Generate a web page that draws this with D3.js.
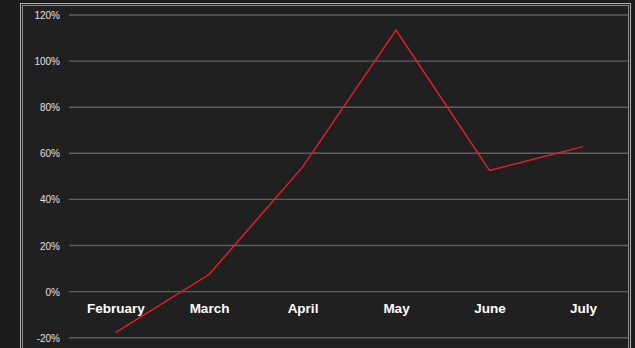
<!DOCTYPE html>
<html><head><meta charset="utf-8">
<script src="https://cdn.jsdelivr.net/npm/d3@7"></script>
<style>html,body{margin:0;padding:0;background:#1c1c1c;overflow:hidden}</style>
</head><body>
<script>
const months = ["February","March","April","May","June","July"];
const growth = [-17.8, 7.4, 54, 113.5, 52.6, 62.9];
const yTicks = [-20, 0, 20, 40, 60, 80, 100, 120];

const W = 635, H = 348;
const svg = d3.select("body").append("svg").attr("width", W).attr("height", H);
svg.append("rect").attr("width", W).attr("height", H).attr("fill", "#1c1c1c");
// panel
svg.append("rect").attr("x", 21).attr("y", 4).attr("width", 609).attr("height", 360).attr("fill", "#202020");
svg.append("rect").attr("x", 20.5).attr("y", 3.5).attr("width", 610).attr("height", 360)
  .attr("fill", "none").attr("stroke", "#b4b4b4").attr("stroke-width", 1);
svg.append("rect").attr("x", 22.5).attr("y", 5.5).attr("width", 606).attr("height", 360)
  .attr("fill", "none").attr("stroke", "#8a8a8a").attr("stroke-width", 1);

const y = d3.scaleLinear().domain([-20, 120]).range([337.7, 15]);
const x = d3.scalePoint().domain(months).range([115.5, 583]);

const gridX0 = 69, gridX1 = 628;
const yAxis = d3.axisLeft(y).tickValues(yTicks).tickFormat(d => d + "%").tickSize(0).tickPadding(0);
const ga = svg.append("g").attr("transform", `translate(60,0)`).call(yAxis);
ga.select(".domain").remove();
ga.selectAll("text").attr("fill", "#e0e0e0").attr("font-family", "Liberation Sans, Arial, sans-serif")
  .attr("font-size", "10px").attr("dy", "0.35em");

svg.append("g").selectAll("line").data(yTicks).join("line")
  .attr("x1", gridX0).attr("x2", gridX1)
  .attr("y1", d => y(d)).attr("y2", d => y(d))
  .attr("stroke", "#5e5e5e").attr("stroke-width", 1.4);

const xAxis = d3.axisBottom(x).tickSize(0).tickPadding(0);
const gx = svg.append("g").attr("transform", `translate(0,313)`).call(xAxis);
gx.select(".domain").remove();
gx.selectAll("text").attr("fill", "#ffffff").attr("font-family", "Liberation Sans, Arial, sans-serif")
  .attr("font-weight", "bold").attr("font-size", "13.5px").attr("dy", "0").attr("y", 0);

const line = d3.line().x((d, i) => x(months[i])).y(d => y(d));
svg.append("path").datum(growth).attr("d", line)
  .attr("fill", "none").attr("stroke", "#e0202a").attr("stroke-width", 1.5);
</script>
</body></html>
